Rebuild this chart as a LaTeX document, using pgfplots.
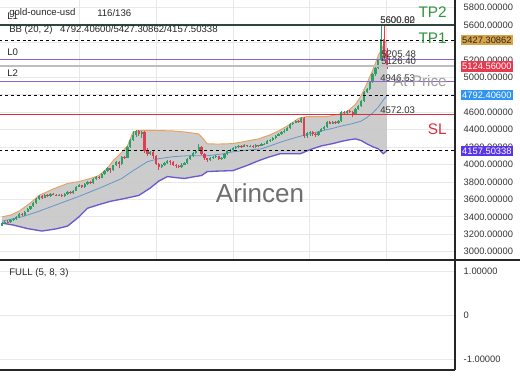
\documentclass[border=0pt]{standalone}
\usepackage{fontspec}
\setmainfont{Liberation Sans}
\usepackage{pgfplots}
\usepackage{pgfplotstable}
\pgfplotsset{compat=1.18}

\definecolor{cgreen}{RGB}{45,160,105}
\definecolor{cred}{RGB}{222,62,80}
\definecolor{ctick}{RGB}{51,51,51}
\definecolor{cgrid}{RGB}{232,232,232}
\definecolor{cpurple}{RGB}{140,100,200}
\definecolor{cdark}{RGB}{45,70,62}
\definecolor{clevelgray}{RGB}{190,190,190}
\definecolor{cslred}{RGB}{220,45,60}
\definecolor{ctp}{RGB}{46,150,58}
\definecolor{cupper}{RGB}{232,160,90}
\definecolor{cmid}{RGB}{100,150,200}
\definecolor{clower}{RGB}{105,90,205}
\definecolor{bOrange}{RGB}{216,164,72}
\definecolor{bRed}{RGB}{232,57,79}
\definecolor{bBlue}{RGB}{47,149,240}
\definecolor{bPurple}{RGB}{90,53,232}

\newcommand\tf{\fontsize{7}{8}\selectfont}

% rising candles (close >= open)
\pgfplotstableread{
i o h l c
0 3300 3345 3290 3330
1 3330 3355 3318 3345
3 3340 3372 3335 3360
4 3360 3388 3350 3375
5 3375 3405 3368 3395
6 3395 3445 3388 3430
8 3420 3472 3415 3460
9 3460 3500 3452 3490
10 3490 3530 3482 3520
11 3520 3565 3510 3555
12 3555 3612 3548 3600
13 3600 3648 3592 3635
15 3620 3662 3612 3650
17 3640 3672 3632 3660
20 3645 3662 3638 3650
22 3640 3675 3632 3665
23 3665 3700 3655 3690
25 3670 3712 3662 3700
26 3700 3755 3692 3745
27 3745 3772 3738 3760
29 3740 3790 3732 3780
30 3780 3815 3770 3805
32 3790 3842 3782 3830
33 3830 3872 3822 3860
35 3850 3900 3842 3890
36 3890 3942 3880 3930
37 3930 3968 3920 3955
39 3940 4000 3930 3990
40 3990 4045 3980 4030
42 4010 4100 4000 4090
44 4080 4215 4072 4200
45 4200 4295 4190 4280
46 4280 4385 4270 4340
47 4340 4395 4320 4380
49 4350 4385 4300 4370
52 4120 4160 4105 4140
56 3975 4010 3960 3995
57 3995 4030 3985 4015
58 4015 4055 4005 4040
63 3975 4012 3965 4000
64 4000 4025 3990 4015
65 4015 4072 4008 4060
66 4060 4108 4050 4095
67 4095 4142 4088 4130
68 4130 4172 4120 4160
69 4160 4235 4150 4200
73 4050 4082 4040 4070
74 4070 4098 4060 4085
75 4085 4105 4075 4095
77 4065 4082 4055 4070
78 4070 4132 4062 4120
79 4120 4162 4110 4150
80 4150 4182 4140 4170
81 4170 4198 4160 4185
82 4185 4212 4175 4200
83 4200 4228 4192 4215
85 4205 4232 4198 4220
87 4210 4225 4202 4215
89 4200 4232 4192 4220
91 4215 4242 4208 4230
92 4230 4252 4222 4240
93 4240 4282 4232 4270
94 4270 4292 4260 4280
95 4280 4312 4272 4300
96 4300 4342 4292 4330
97 4330 4358 4322 4345
98 4345 4382 4338 4370
99 4370 4402 4362 4390
100 4390 4432 4382 4420
101 4420 4478 4412 4465
102 4465 4492 4455 4480
103 4480 4512 4472 4500
105 4490 4545 4482 4535
107 4330 4372 4300 4360
108 4360 4388 4330 4375
111 4340 4388 4332 4375
112 4375 4422 4368 4410
113 4410 4442 4400 4430
114 4430 4498 4422 4485
116 4470 4502 4462 4490
118 4480 4512 4470 4500
119 4500 4612 4492 4600
121 4590 4628 4580 4615
124 4575 4652 4565 4640
125 4640 4688 4630 4675
126 4675 4742 4665 4730
127 4730 4842 4720 4830
128 4830 4878 4818 4865
129 4865 4958 4855 4945
130 4945 5048 4935 5035
131 5035 5125 5020 5110
132 5110 5215 5095 5200
133 5200 5600.82 5185 5440
}\upc

% falling candles (close < open)
\pgfplotstableread{
i o h l c
2 3345 3360 3325 3340
7 3430 3440 3410 3420
14 3635 3645 3610 3620
16 3650 3660 3628 3640
18 3660 3670 3645 3655
19 3655 3662 3635 3645
21 3650 3658 3630 3640
24 3690 3698 3660 3670
28 3760 3768 3728 3740
31 3805 3812 3780 3790
34 3860 3868 3838 3850
38 3955 3962 3900 3940
41 4030 4040 3960 4010
43 4090 4102 4060 4080
48 4380 4392 4330 4350
50 4370 4380 4130 4150
51 4150 4185 4095 4120
53 4140 4150 4060 4100
54 4100 4110 3995 4010
55 4010 4020 3935 3975
59 4040 4050 4000 4030
60 4030 4038 3980 3995
61 3995 4005 3965 3985
62 3985 3998 3955 3975
70 4200 4210 4110 4125
71 4125 4135 4055 4070
72 4070 4080 4030 4050
76 4095 4102 4050 4065
84 4215 4222 4195 4205
86 4220 4228 4200 4210
88 4215 4222 4190 4200
90 4220 4228 4205 4215
104 4500 4508 4480 4490
106 4535 4545 4300 4330
109 4375 4385 4330 4350
110 4350 4362 4320 4340
115 4485 4495 4460 4470
117 4490 4498 4465 4480
120 4600 4610 4570 4590
122 4615 4625 4588 4600
123 4600 4612 4550 4575
134 5440 5590 5200 5250
135 5300 5340 5100 5124.56
}\downc

\pgfplotstableread{
i v
0 3400
3 3420
6 3465
10 3560
13 3646
18 3720
23 3783
27 3805
31 3840
34 3874
37 3960
39 4044
42 4140
44 4214
46 4374
48 4390
51 4392
55 4390
60 4385
65 4370
69 4351
71 4280
72 4237
76 4235
81 4240
86 4270
90 4294
94 4340
97 4385
101 4460
104 4530
107 4550
110 4550
114 4550
118 4575
121 4605
124 4690
126 4790
128 4930
130 5080
132 5250
134 5380
135 5427.31
}\upperband

\pgfplotstableread{
i v
0 3351
7 3400
13 3465
20 3550
27 3635
35 3740
42 3840
46 3930
51 4032
55 4067
60 4090
65 4101
72 4101
77 4120
81 4146
86 4165
91 4180
95 4225
98 4260
102 4300
105 4328
109 4360
112 4385
116 4415
119 4441
123 4470
126 4498
128 4540
130 4590
132 4660
134 4750
135 4792.41
}\midband

\pgfplotstableread{
i v
0 3328
4 3306
9 3265
14 3237
19 3262
23 3294
27 3400
30 3499
34 3540
38 3578
43 3610
48 3646
52 3730
55 3810
58 3862
61 3850
64 3840
67 3858
70 3874
72 3919
76 3925
81 3930
86 3990
90.5 4050
94 4090
97.5 4123
101 4123
104.6 4123
108 4170
112 4214
116 4240
119 4265
122 4285
124 4294
126 4275
128 4237
130 4205
132 4180
133.7 4124
135 4157.5
}\lowerband

% band outline (upper forward, lower backward) for the shaded area
\pgfplotstableread{
i v
0 3400
3 3420
6 3465
10 3560
13 3646
18 3720
23 3783
27 3805
31 3840
34 3874
37 3960
39 4044
42 4140
44 4214
46 4374
48 4390
51 4392
55 4390
60 4385
65 4370
69 4351
71 4280
72 4237
76 4235
81 4240
86 4270
90 4294
94 4340
97 4385
101 4460
104 4530
107 4550
110 4550
114 4550
118 4575
121 4605
124 4690
126 4790
128 4930
130 5080
132 5250
134 5380
135 5427.31
135 4157.5
133.7 4124
132 4180
130 4205
128 4237
126 4275
124 4294
122 4285
119 4265
116 4240
112 4214
108 4170
104.6 4123
101 4123
97.5 4123
94 4090
90.5 4050
86 3990
81 3930
76 3925
72 3919
70 3874
67 3858
64 3840
61 3850
58 3862
55 3810
52 3730
48 3646
43 3610
38 3578
34 3540
30 3499
27 3400
23 3294
19 3262
14 3237
9 3265
4 3306
0 3328
}\bandarea

\begin{document}
\begin{tikzpicture}
\useasboundingbox (0,0) rectangle (390pt,292.5pt);
\begin{axis}[
  at={(0pt,97.5pt)}, anchor=south west, scale only axis,
  width=341.25pt, height=195pt,
  xmin=-0.7, xmax=158.9, ymin=2905, ymax=5887,
  axis x line*=bottom, axis y line*=right,
  axis line style={-, draw=black!85, line width=0.8pt},
  major tick length=0pt,
  xtick={27,54,81,108,135}, xticklabels={},
  ytick={3000,3200,...,5800},
  yticklabel={\pgfmathprintnumber[fixed,fixed zerofill,precision=5,1000 sep={}]{\tick}},
  /pgf/number format/assume math mode=true,
  yticklabel style={font=\tf, text=ctick, xshift=3pt},
  xmajorgrids, ymajorgrids,
  grid style={cgrid, line width=0.6pt},
]
% Bollinger shaded area and lines
\addplot[fill=black!22, fill opacity=0.9, draw=none] table[x=i,y=v]{\bandarea} -- cycle;
\addplot[cupper, line width=0.7pt] table[x=i,y=v]{\upperband};
\addplot[cmid, line width=0.6pt] table[x=i,y=v]{\midband};
\addplot[clower, line width=1pt] table[x=i,y=v]{\lowerband};

% candles: rising (wick high->low, body close->open)
\addplot[cgreen, line width=0.55pt, quiver={u=0, v=\thisrow{l}-\thisrow{h}}] table[x=i, y=h]{\upc};
\addplot[cgreen, line width=1.7pt, quiver={u=0, v=\thisrow{o}-\thisrow{c}}] table[x=i, y=c]{\upc};
% candles: falling
\addplot[cred, line width=0.55pt, quiver={u=0, v=\thisrow{l}-\thisrow{h}}] table[x=i, y=h]{\downc};
\addplot[cred, line width=1.7pt, quiver={u=0, v=\thisrow{c}-\thisrow{o}}] table[x=i, y=o]{\downc};

% level lines
\addplot[cdark, line width=1.1pt] coordinates {(-1,5600.82) (160,5600.82)};
\addplot[black, line width=0.8pt, dash pattern=on 2.2pt off 2.2pt] coordinates {(-1,5427.30862) (160,5427.30862)};
\addplot[cpurple, line width=0.75pt] coordinates {(-1,5205.48) (160,5205.48)};
\addplot[clevelgray, line width=1.6pt] coordinates {(-1,5126.40) (160,5126.40)};
\addplot[cpurple, line width=0.75pt] coordinates {(-1,4946.53) (160,4946.53)};
\addplot[black, line width=0.8pt, dash pattern=on 2.2pt off 2.2pt] coordinates {(-1,4792.406) (160,4792.406)};
\addplot[cslred, line width=0.9pt] coordinates {(-1,4572.03) (160,4572.03)};
\addplot[black, line width=0.8pt, dash pattern=on 2.2pt off 2.2pt] coordinates {(-1,4157.50338) (160,4157.50338)};

\coordinate (b1) at (axis cs:158.9,5427.30862);
\coordinate (b2) at (axis cs:158.9,5124.56);
\coordinate (b3) at (axis cs:158.9,4792.406);
\coordinate (b4) at (axis cs:158.9,4157.50338);
\end{axis}

\begin{axis}[
  at={(0pt,15pt)}, anchor=south west, scale only axis,
  width=341.25pt, height=82.5pt,
  xmin=-0.7, xmax=158.9, ymin=-1.25, ymax=1.25,
  axis x line*=bottom, axis y line*=right,
  axis line style={-, draw=black!85, line width=0.8pt},
  major tick length=0pt,
  xtick=\empty,
  ytick={-1,0,1}, yticklabels={-1.00000,0,1.00000},
  yticklabel style={font=\tf, text=ctick, xshift=3pt},
  ymajorgrids,
  grid style={cgrid, line width=0.6pt},
]
\addplot[draw=none] coordinates {(0,0) (1,0)};
\end{axis}

% texts (positions in image pixels: 1px = 0.75pt, measured from top-left)
\begin{scope}[x=0.75pt, y=-0.75pt, shift={(0,292.5pt)}]
\node[anchor=west, font=\fontsize{7.2}{8}\selectfont, text=black!85, inner sep=0pt] at (9,273) {FULL (5, 8, 3)};
\node[anchor=center, font=\fontsize{19.5}{22}\selectfont, text=black!57] at (260,193) {Arincen};
\node[anchor=west, font=\fontsize{7.2}{8}\selectfont, text=black!85, inner sep=0pt] at (9,13) {gold-ounce-usd};
\node[anchor=west, font=\fontsize{7.2}{8}\selectfont, text=black!85, inner sep=0pt] at (97,13) {116/136};
\node[anchor=west, font=\fontsize{7.2}{8}\selectfont, text=black!85, inner sep=0pt] at (7,16) {L1};
\node[anchor=west, font=\fontsize{7.2}{8}\selectfont, text=black!85, inner sep=0pt] at (9,30) {BB (20, 2)\hspace{0.8em}4792.40600/5427.30862/4157.50338};
\node[anchor=west, font=\fontsize{7.2}{8}\selectfont, text=black!85, inner sep=0pt] at (7,52) {L0};
\node[anchor=west, font=\fontsize{7.2}{8}\selectfont, text=black!85, inner sep=0pt] at (7,73) {L2};

\node[anchor=west, font=\fontsize{7.2}{8}\selectfont, text=black!85, inner sep=0pt] at (380,20) {5600.82};
\node[anchor=west, font=\fontsize{7.2}{8}\selectfont, text=black!70, inner sep=0pt] at (380,20) {5600.00};
\node[anchor=west, font=\fontsize{7.2}{8}\selectfont, text=black!80, inner sep=0pt] at (381,54) {5205.48};
\node[anchor=west, font=\fontsize{7.2}{8}\selectfont, text=black!80, inner sep=0pt] at (381,61) {5126.40};
\node[anchor=west, font=\fontsize{7.2}{8}\selectfont, text=black!80, inner sep=0pt] at (380,78) {4946.53};
\node[anchor=west, font=\fontsize{7.2}{8}\selectfont, text=black!80, inner sep=0pt] at (380,110) {4572.03};

\node[anchor=east, font=\fontsize{11.5}{13}\selectfont, text=ctp, inner sep=0pt] at (447,12) {TP2};
\node[anchor=east, font=\fontsize{11.5}{13}\selectfont, text=ctp, inner sep=0pt] at (447,38) {TP1};
\node[anchor=east, font=\fontsize{11.5}{13}\selectfont, text=black!38, inner sep=0pt] at (447,81) {At Price};
\node[anchor=east, font=\fontsize{11.5}{13}\selectfont, text=cslred, inner sep=0pt] at (447,129) {SL};
\end{scope}

\draw[black!85, line width=0.8pt] (0,97.5pt) -- (390pt,97.5pt);
\draw[black!85, line width=0.8pt] (341.25pt,97.5pt) -- (341.25pt,292.5pt);

\node[anchor=west, xshift=4pt, fill=bOrange, text=black!85, inner xsep=1.2pt, inner ysep=1.3pt, font=\tf] at (b1) {5427.30862};
\node[anchor=west, xshift=4pt, fill=bRed, text=white, inner xsep=1.2pt, inner ysep=1.3pt, font=\tf] at (b2) {5124.56000};
\node[anchor=west, xshift=4pt, fill=bBlue, text=white, inner xsep=1.2pt, inner ysep=1.3pt, font=\tf] at (b3) {4792.40600};
\node[anchor=west, xshift=4pt, fill=bPurple, text=white, inner xsep=1.2pt, inner ysep=1.3pt, font=\tf] at (b4) {4157.50338};
\end{tikzpicture}
\end{document}
